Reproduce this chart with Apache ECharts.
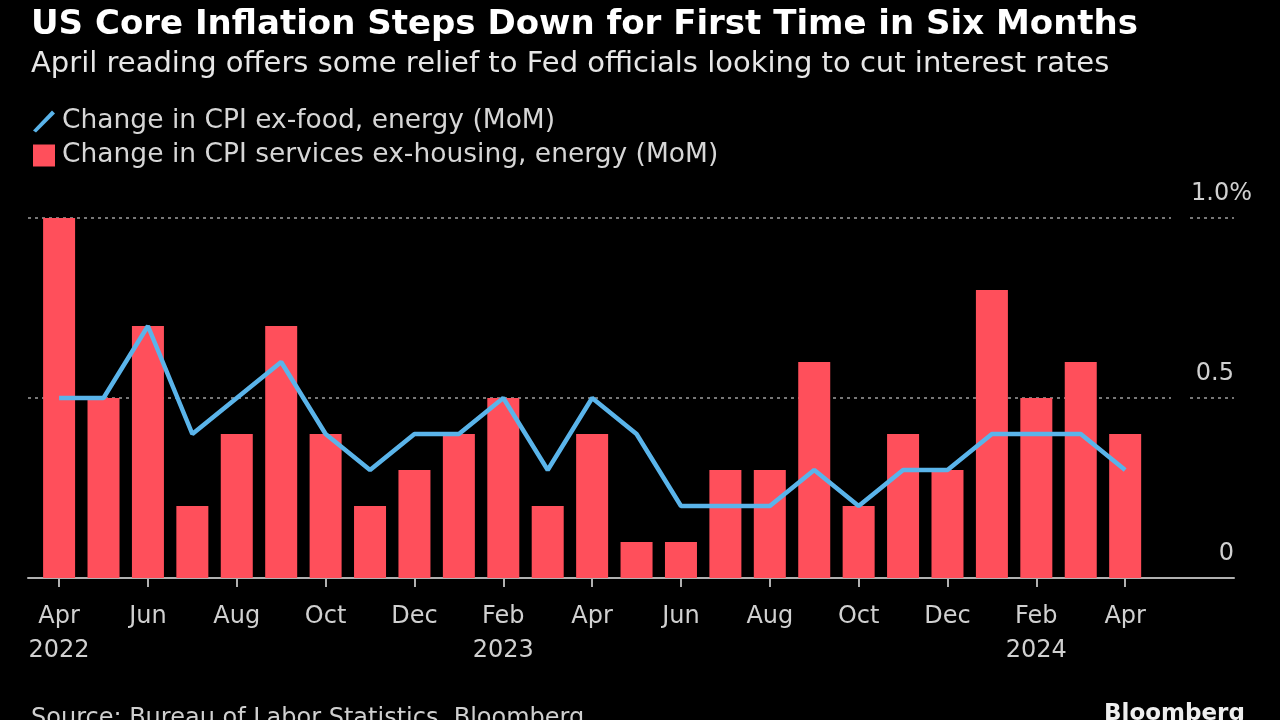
<!DOCTYPE html>
<html>
<head>
<meta charset="utf-8">
<script src="https://cdn.jsdelivr.net/npm/echarts@6/dist/echarts.min.js"></script>
<style>
html,body{margin:0;padding:0;background:#000;}
#chart{width:1280px;height:720px;}
</style>
</head>
<body>
<div id="chart"></div>
<script>
// Months Apr 2022 .. Apr 2024
const months = ['Apr','May','Jun','Jul','Aug','Sep','Oct','Nov','Dec','Jan','Feb','Mar','Apr',
                'May','Jun','Jul','Aug','Sep','Oct','Nov','Dec','Jan','Feb','Mar','Apr'];
const yearLabels = {0:'2022', 10:'2023', 22:'2024'};
const servicesExHousing = [1.0,0.5,0.7,0.2,0.4,0.7,0.4,0.2,0.3,0.4,0.5,0.2,0.4,
                           0.1,0.1,0.3,0.3,0.6,0.2,0.4,0.3,0.8,0.5,0.6,0.4];
const coreCPI = [0.5,0.5,0.7,0.4,0.5,0.6,0.4,0.3,0.4,0.4,0.5,0.3,0.5,
                 0.4,0.2,0.2,0.2,0.3,0.2,0.3,0.3,0.4,0.4,0.4,0.3];
const tickIdx = [0,2,4,6,8,10,12,14,16,18,20,22,24];
const yTicksPlain = [0, 0.5];
const yTickTop = [1.0];

const FONT = 'DejaVu Sans';
const LABEL = '#d0d0d0';
const chart = echarts.init(document.getElementById('chart'));
chart.setOption({
  backgroundColor: '#000',
  animation: false,
  textStyle: {fontFamily: FONT},
  title: [
    {text: 'US Core Inflation Steps Down for First Time in Six Months', left: 26, top: 3,
     textStyle: {color: '#fff', fontSize: 34, fontWeight: 'bold', fontFamily: FONT}},
    {text: 'April reading offers some relief to Fed officials looking to cut interest rates', left: 26, top: 45,
     textStyle: {color: '#e6e6e6', fontSize: 29, fontWeight: 'normal', fontFamily: FONT}},
    {text: 'Source: Bureau of Labor Statistics, Bloomberg', left: 26, top: 702,
     textStyle: {color: '#cfcfcf', fontSize: 24, fontWeight: 'normal', fontFamily: FONT}},
    {text: 'Bloomberg', left: 1099, top: 698,
     textStyle: {color: '#eee', fontSize: 23, fontWeight: 'bold', fontFamily: FONT}}
  ],
  legend: {
    orient: 'vertical', left: 28, top: 103, itemGap: 7,
    itemWidth: 22, itemHeight: 22,
    textStyle: {color: '#d6d6d6', fontSize: 26.5, fontFamily: FONT, padding: [0,0,0,2]},
    data: [
      {name: 'Change in CPI ex-food, energy (MoM)',
       icon: 'path://M0,20 L3,22 L22,3 L19,0 Z', itemStyle: {color: '#5ab4ea'}},
      {name: 'Change in CPI services ex-housing, energy (MoM)', icon: 'rect'}
    ]
  },
  grid: {left: 28, right: 46, top: 218, bottom: 142},
  xAxis: {
    type: 'value', min: -0.7, max: 26.45,
    splitLine: {show: false},
    axisLine: {show: true, onZero: false, lineStyle: {color: '#b0b0b0', width: 2}},
    axisTick: {show: true, customValues: tickIdx, length: 9, lineStyle: {color: '#b0b0b0', width: 2}},
    axisLabel: {
      customValues: tickIdx, color: LABEL, fontSize: 24, margin: 22, lineHeight: 34,
      formatter: v => months[v] + (yearLabels[v] ? '\n' + yearLabels[v] : '')
    }
  },
  yAxis: [
    {
      type: 'value', position: 'right', min: 0, max: 1, interval: 0.5,
      axisLine: {show: false}, axisTick: {show: false},
      splitLine: {show: true, lineStyle: {color: '#777', type: [3, 4], width: 2}},
      axisLabel: {
        customValues: yTicksPlain,
        inside: true, margin: 0, align: 'right', verticalAlign: 'bottom', padding: [0, 0, 12, 0],
        color: LABEL, fontSize: 24,
        formatter: v => (v === 0 ? '0' : v.toFixed(1))
      }
    },
    {
      type: 'value', position: 'right', min: 0, max: 1, interval: 0.5,
      axisLine: {show: false}, axisTick: {show: false}, splitLine: {show: false},
      axisLabel: {
        customValues: yTickTop,
        inside: true, margin: -18, align: 'right', verticalAlign: 'bottom', padding: [0, 0, 12, 0],
        color: LABEL, fontSize: 24,
        formatter: v => v.toFixed(1) + '%'
      }
    }
  ],
  graphic: [
    {type: 'rect', left: 1171, top: 205, shape: {width: 18, height: 200}, style: {fill: '#000'}, z: 5}
  ],
  series: [
    {
      name: 'Change in CPI services ex-housing, energy (MoM)', type: 'bar',
      data: servicesExHousing.map((v, i) => [i, v]),
      barWidth: 32, itemStyle: {color: '#ff4f5b'}, z: 2
    },
    {
      name: 'Change in CPI ex-food, energy (MoM)', type: 'line',
      data: coreCPI.map((v, i) => [i, v]),
      showSymbol: false, symbol: 'none',
      lineStyle: {color: '#5ab4ea', width: 4.5}, itemStyle: {color: '#5ab4ea'}, z: 3
    }
  ]
});
</script>
</body>
</html>
